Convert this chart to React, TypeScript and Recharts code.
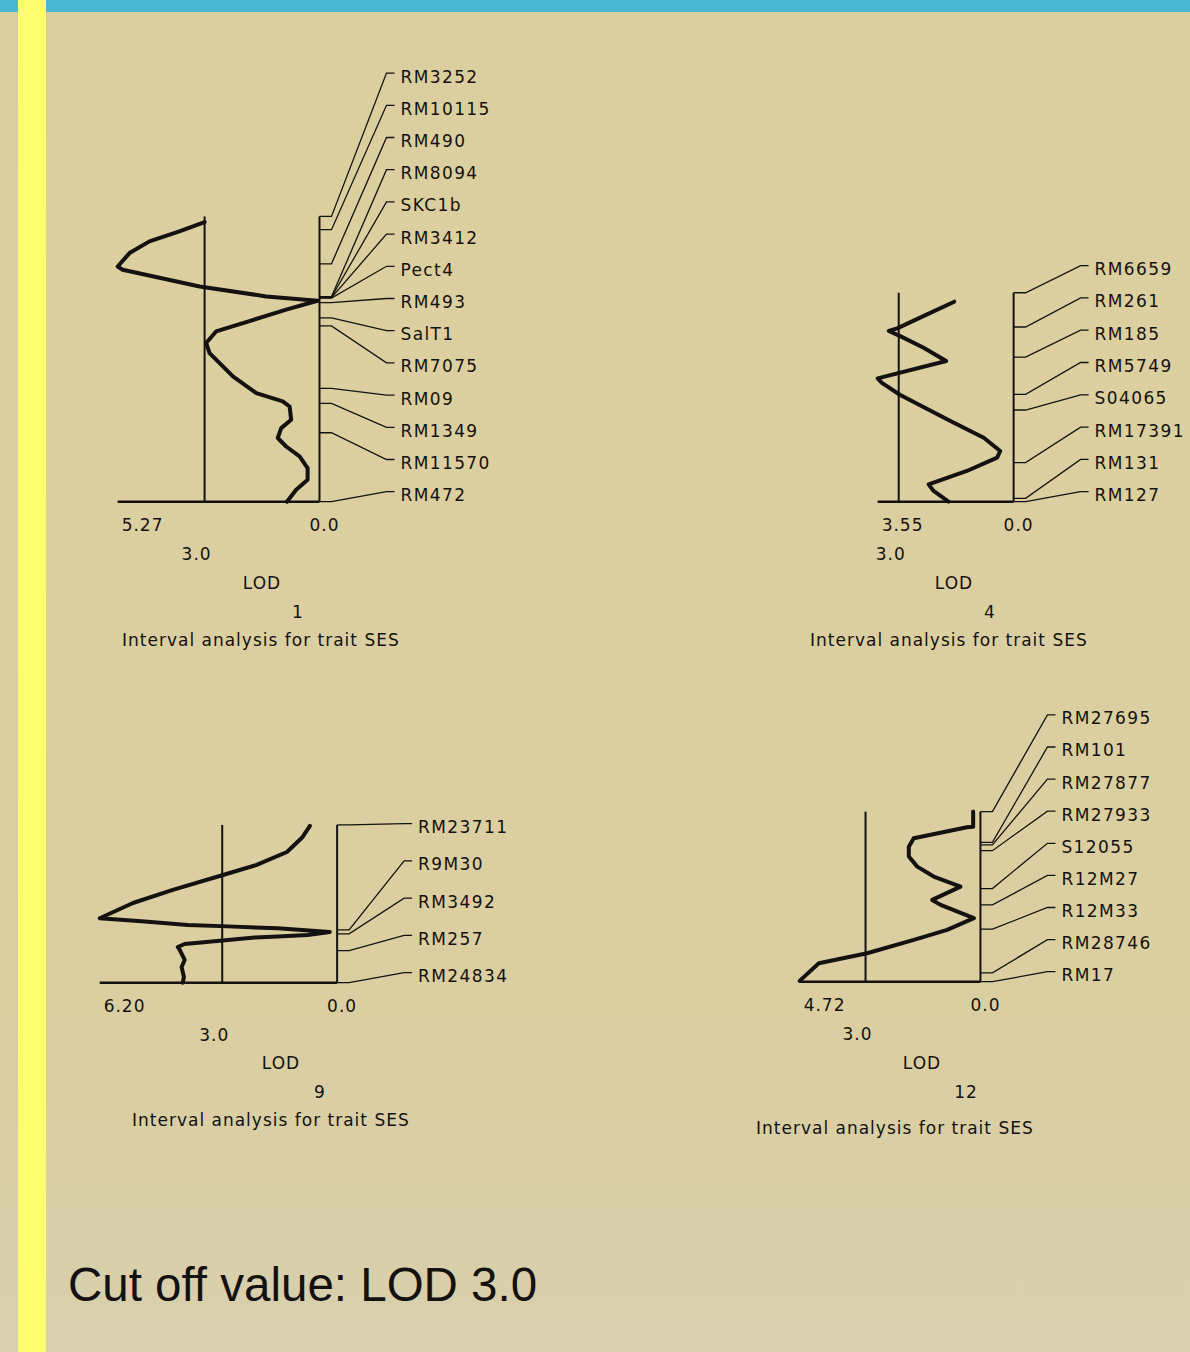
import React from 'react';
import { ScatterChart, Scatter, XAxis, YAxis } from 'recharts';

const LOD_PX = 38.3;
const CM_PX = 1.6;
const CUTOFF = 3.0;
const EXT_RIGHT = 5.3;
const PAD_LEFT = 0.2;
const PAD_BOTTOM = 2;
const AXIS_H = 70;
const INK = '#141210';
const FONT = '"DejaVu Sans", Verdana, sans-serif';

// ---- Chromosome 1 ----
const chr1Markers = ['RM3252', 'RM10115', 'RM490', 'RM8094', 'SKC1b', 'RM3412', 'Pect4', 'RM493', 'SalT1', 'RM7075', 'RM09', 'RM1349', 'RM11570', 'RM472'];
const chr1MarkerCm = [0, 8.3, 29.6, 50.2, 50.5, 50.8, 51.1, 53.9, 63.4, 68.4, 107.5, 116.9, 135.2, 178.3];
const chr1ProfileCm = [3.5, 9.4, 15.6, 22.9, 31.3, 33.3, 43.8, 50, 52.7, 58.3, 71.9, 79.1, 85.4, 100, 110.4, 115.6, 118.8, 127.1, 132.3, 138.5, 143.8, 150, 157.3, 164.6, 170.8, 178.3];
const chr1ProfileLod = [3.0, 3.66, 4.44, 4.96, 5.27, 5.14, 3.13, 1.39, 0.05, 0.87, 2.7, 2.96, 2.87, 2.26, 1.65, 0.96, 0.78, 0.74, 1.0, 1.09, 0.87, 0.52, 0.31, 0.31, 0.61, 0.85];
const chr1TickValues = [5.27, 3.0, 0.0];
const chr1TickLabels = ['5.27', '3.0', '0.0'];

// ---- Chromosome 4 ----
const chr4Markers = ['RM6659', 'RM261', 'RM185', 'RM5749', 'S04065', 'RM17391', 'RM131', 'RM127'];
const chr4MarkerCm = [0, 21.4, 40.2, 63.5, 73.3, 106.2, 128.5, 130.6];
const chr4ProfileCm = [5.6, 13.5, 22.3, 23.9, 27.1, 34.4, 42.7, 53.5, 56.3, 63.9, 80.2, 90.6, 98.9, 103.1, 111.4, 119.8, 123.9, 130.6];
const chr4ProfileLod = [1.55, 2.26, 3.04, 3.26, 2.96, 2.35, 1.76, 3.55, 3.44, 2.96, 1.65, 0.78, 0.35, 0.43, 1.22, 2.22, 2.09, 1.7];
const chr4TickValues = [3.55, 3.0, 0.0];
const chr4TickLabels = ['3.55', '3.0', '0.0'];

// ---- Chromosome 9 ----
const chr9Markers = ['RM23711', 'R9M30', 'RM3492', 'RM257', 'RM24834'];
const chr9MarkerCm = [0, 65.6, 68.1, 78.6, 98.6];
const chr9ProfileCm = [0.6, 7.5, 16.9, 25, 31.3, 40.6, 48.8, 58.3, 60.4, 62.5, 63.4, 64.6, 66.9, 68.8, 69.7, 70.3, 71.9, 74.4, 76.3, 78.1, 84.4, 88.8, 95, 98.6];
const chr9ProfileLod = [0.71, 0.9, 1.31, 2.1, 2.98, 4.29, 5.33, 6.2, 5.02, 3.9, 2.85, 1.55, 0.19, 0.77, 1.55, 2.15, 2.85, 3.98, 4.16, 4.11, 3.98, 4.06, 4.0, 4.03];
const chr9TickValues = [6.2, 3.0, 0.0];
const chr9TickLabels = ['6.20', '3.0', '0.0'];

// ---- Chromosome 12 ----
const chr12Markers = ['RM27695', 'RM101', 'RM27877', 'RM27933', 'S12055', 'R12M27', 'R12M33', 'RM28746', 'RM17'];
const chr12MarkerCm = [0, 19.2, 20.8, 24.4, 48.1, 58.3, 73.5, 100.8, 106.3];
const chr12ProfileCm = [0, 9.4, 9.8, 16.6, 21.9, 28.1, 34.4, 40.6, 46.9, 48.9, 55.2, 58.3, 66.6, 73.9, 80.2, 88.5, 94.8, 105.8];
const chr12ProfileLod = [0.19, 0.19, 0.35, 1.74, 1.87, 1.87, 1.65, 1.22, 0.52, 0.7, 1.26, 1.04, 0.17, 0.87, 1.74, 2.96, 4.22, 4.72];
const chr12TickValues = [4.72, 3.0, 0.0];
const chr12TickLabels = ['4.72', '3.0', '0.0'];

const CAPTION = 'Interval analysis for trait SES';
const AXIS_TITLE = 'LOD';
const FOOTER = 'Cut off value: LOD 3.0';

type PanelCfg = {
  chrom: string;
  names: string[];
  markerCm: number[];
  profCm: number[];
  profLod: number[];
  tickValues: number[];
  tickLabels: string[];
  barX: number;
  bottomY: number;
  chartTop: number;
  labelGap: number;
  lodPos: [number, number];
  numPos: [number, number];
  capPos: [number, number];
};

const panels: PanelCfg[] = [
  { chrom: '1', names: chr1Markers, markerCm: chr1MarkerCm, profCm: chr1ProfileCm, profLod: chr1ProfileLod, tickValues: chr1TickValues, tickLabels: chr1TickLabels, barX: 320, bottomY: 501.7, chartTop: 55, labelGap: 32.2, lodPos: [262, 583], numPos: [298, 612], capPos: [122, 640] },
  { chrom: '4', names: chr4Markers, markerCm: chr4MarkerCm, profCm: chr4ProfileCm, profLod: chr4ProfileLod, tickValues: chr4TickValues, tickLabels: chr4TickLabels, barX: 1013.3, bottomY: 501.7, chartTop: 250, labelGap: 32.3, lodPos: [954, 583], numPos: [990, 612], capPos: [810, 640] },
  { chrom: '9', names: chr9Markers, markerCm: chr9MarkerCm, profCm: chr9ProfileCm, profLod: chr9ProfileLod, tickValues: chr9TickValues, tickLabels: chr9TickLabels, barX: 337.3, bottomY: 982.7, chartTop: 800, labelGap: 37.25, lodPos: [281, 1063], numPos: [320, 1092], capPos: [132, 1120] },
  { chrom: '12', names: chr12Markers, markerCm: chr12MarkerCm, profCm: chr12ProfileCm, profLod: chr12ProfileLod, tickValues: chr12TickValues, tickLabels: chr12TickLabels, barX: 980, bottomY: 981.7, chartTop: 695, labelGap: 32.1, lodPos: [922, 1063], numPos: [966, 1092], capPos: [756, 1128] },
];

const NoDot = () => <g />;

const smallText: React.CSSProperties = {
  position: 'absolute',
  fontFamily: FONT,
  fontSize: 17,
  lineHeight: '17px',
  letterSpacing: 1,
  color: INK,
  whiteSpace: 'nowrap',
};

function Panel({ p }: { p: PanelCfg }) {
  const L = p.markerCm[p.markerCm.length - 1];
  const maxLod = p.tickValues[0];
  const barTopY = p.bottomY - L * CM_PX;
  const domTop = -(barTopY - p.chartTop) / CM_PX;
  const domBottom = L + PAD_BOTTOM;
  const plotH = (domBottom - domTop) * CM_PX;
  const domLeft = maxLod + PAD_LEFT;
  const width = (domLeft + EXT_RIGHT) * LOD_PX;
  const left = p.barX - domLeft * LOD_PX;

  const profile = p.profCm.map((c, i) => ({ pos: c, lod: p.profLod[i] }));
  const n = p.names.length;
  const labelCm = p.names.map((_, i) => L - (10 + (n - 1 - i) * p.labelGap) / CM_PX);
  const s1 = -12 / LOD_PX;
  const s2 = -67 / LOD_PX;
  const s3 = -75 / LOD_PX;
  const s4 = -81 / LOD_PX;
  const labels = p.names.map((name, i) => ({ name, lod: s4, pos: labelCm[i] }));

  const renderTick = (props: any) => {
    const { x, y, payload } = props;
    const v = payload.value;
    const idx = p.tickValues.indexOf(v);
    const label = idx >= 0 ? p.tickLabels[idx] : String(v);
    let tx = x;
    let ty = y + 25.8;
    let anchor: 'start' | 'middle' = 'middle';
    if (idx === 0) {
      tx = x + 4;
      anchor = 'start';
    } else if (v === CUTOFF) {
      tx = x - 8;
      ty = y + 54.8;
    } else {
      tx = x + 5;
    }
    return (
      <text x={tx} y={ty} textAnchor={anchor} fontFamily={FONT} fontSize={17} letterSpacing={1} fill={INK}>
        {label}
      </text>
    );
  };

  const renderLabel = (props: any) => {
    const { cx, cy } = props;
    const name = props.payload?.name ?? props.name;
    return (
      <text x={cx} y={cy + 9.5} fontFamily={FONT} fontSize={17} letterSpacing={1.4} fill={INK}>
        {name}
      </text>
    );
  };

  const thin = { stroke: INK, strokeWidth: 1.3, fill: 'none' };

  return (
    <>
      <div style={{ position: 'absolute', left, top: p.chartTop }}>
        <ScatterChart width={width} height={plotH + AXIS_H} margin={{ top: 0, right: 0, bottom: 0, left: 0 }}>
          <XAxis
            type="number"
            dataKey="lod"
            domain={[-EXT_RIGHT, domLeft]}
            reversed
            allowDataOverflow
            ticks={p.tickValues}
            interval={0}
            tickLine={false}
            axisLine={false}
            tickSize={0}
            tickMargin={0}
            height={AXIS_H}
            tick={renderTick}
          />
          <YAxis type="number" dataKey="pos" domain={[domTop, domBottom]} reversed allowDataOverflow hide />
          {/* cut-off line */}
          <Scatter
            data={[{ lod: CUTOFF, pos: 0 }, { lod: CUTOFF, pos: L }]}
            line={{ stroke: INK, strokeWidth: 2, fill: 'none' }}
            lineJointType="linear"
            shape={NoDot}
            isAnimationActive={false}
            legendType="none"
          />
          {/* chromosome bar */}
          <Scatter
            data={[{ lod: 0, pos: 0 }, { lod: 0, pos: L }]}
            line={{ stroke: INK, strokeWidth: 2, fill: 'none' }}
            lineJointType="linear"
            shape={NoDot}
            isAnimationActive={false}
            legendType="none"
          />
          {/* baseline */}
          <Scatter
            data={[{ lod: maxLod, pos: L }, { lod: 0, pos: L }]}
            line={{ stroke: INK, strokeWidth: 2.6, fill: 'none' }}
            lineJointType="linear"
            shape={NoDot}
            isAnimationActive={false}
            legendType="none"
          />
          {/* marker connectors */}
          {p.markerCm.map((m, i) => (
            <Scatter
              key={'c' + i}
              data={[
                { lod: 0, pos: m },
                { lod: s1, pos: m },
                { lod: s2, pos: labelCm[i] },
                { lod: s3, pos: labelCm[i] },
              ]}
              line={thin}
              lineJointType="linear"
              shape={NoDot}
              isAnimationActive={false}
              legendType="none"
            />
          ))}
          {/* LOD profile */}
          <Scatter
            data={profile}
            line={{ stroke: INK, strokeWidth: 4, fill: 'none', strokeLinejoin: 'round', strokeLinecap: 'round' }}
            lineJointType="linear"
            shape={NoDot}
            isAnimationActive={false}
            legendType="none"
          />
          {/* marker names */}
          <Scatter data={labels} shape={renderLabel} isAnimationActive={false} legendType="none" />
        </ScatterChart>
      </div>
      <div style={{ ...smallText, left: p.lodPos[0], top: p.lodPos[1] - 8.2, transform: 'translateX(-50%)' }}>{AXIS_TITLE}</div>
      <div style={{ ...smallText, left: p.numPos[0], top: p.numPos[1] - 8.2, transform: 'translateX(-50%)' }}>{p.chrom}</div>
      <div style={{ ...smallText, left: p.capPos[0], top: p.capPos[1] - 8.2 }}>{CAPTION}</div>
    </>
  );
}

export default function App() {
  return (
    <div
      style={{
        position: 'absolute',
        left: 0,
        top: 0,
        width: 1190,
        height: 1352,
        overflow: 'hidden',
        background: 'linear-gradient(#dccf9f 0%, #dbcea1 75%, #d8cfae 100%)',
      }}
    >
      <div style={{ position: 'absolute', left: 0, top: 0, width: 1190, height: 12, background: '#4bb8d3' }} />
      <div style={{ position: 'absolute', left: 18, top: 0, width: 28, height: 1352, background: '#fdfc6e' }} />
      {panels.map((p) => (
        <Panel key={p.chrom} p={p} />
      ))}
      <div
        style={{
          position: 'absolute',
          left: 68,
          top: 1261,
          fontFamily: '"Liberation Sans", Arial, sans-serif',
          fontSize: 47.5,
          lineHeight: '47.5px',
          color: INK,
          whiteSpace: 'nowrap',
        }}
      >
        {FOOTER}
      </div>
    </div>
  );
}
